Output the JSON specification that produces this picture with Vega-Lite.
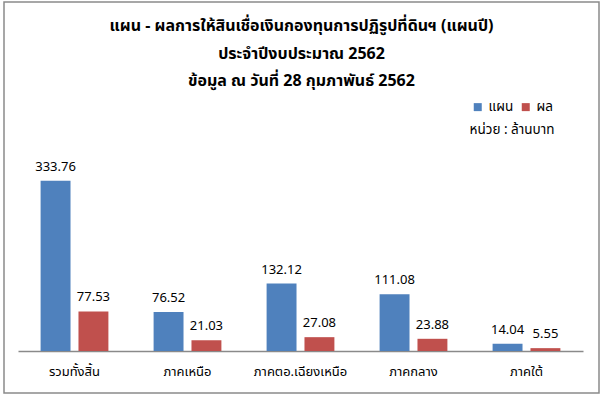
{
  "$schema": "https://vega.github.io/schema/vega-lite/v6.json",
  "width": 602,
  "height": 396,
  "autosize": {"type": "fit", "contains": "padding"},
  "padding": {"left": 4, "top": 2, "right": 3, "bottom": 3},
  "background": "white",
  "config": {
    "view": {"stroke": "#8a8a8a", "strokeWidth": 1.5},
    "font": "Tahoma, 'Noto Sans Thai', 'DejaVu Sans', sans-serif"
  },
  "title": {
    "text": ["แผน - ผลการให้สินเชื่อเงินกองทุนการปฏิรูปที่ดินฯ (แผนปี)", "ประจำปีงบประมาณ 2562", "ข้อมูล ณ วันที่ 28 กุมภาพันธ์ 2562"],
    "anchor": "middle",
    "frame": "group",
    "orient": "top",
    "offset": -87,
    "baseline": "top",
    "fontSize": 16,
    "fontWeight": "bold",
    "lineHeight": 27.5,
    "color": "black"
  },
  "data": {
    "values": [
      {"region": "รวมทั้งสิ้น", "type": "แผน", "value": 333.76},
      {"region": "รวมทั้งสิ้น", "type": "ผล", "value": 77.53},
      {"region": "ภาคเหนือ", "type": "แผน", "value": 76.52},
      {"region": "ภาคเหนือ", "type": "ผล", "value": 21.03},
      {"region": "ภาคตอ.เฉียงเหนือ", "type": "แผน", "value": 132.12},
      {"region": "ภาคตอ.เฉียงเหนือ", "type": "ผล", "value": 27.08},
      {"region": "ภาคกลาง", "type": "แผน", "value": 111.08},
      {"region": "ภาคกลาง", "type": "ผล", "value": 23.88},
      {"region": "ภาคใต้", "type": "แผน", "value": 14.04},
      {"region": "ภาคใต้", "type": "ผล", "value": 5.55}
    ]
  },
  "encoding": {
    "x": {
      "field": "region",
      "type": "nominal",
      "sort": null,
      "scale": {"range": [14, 579], "paddingInner": 0.4, "paddingOuter": 0.2, "align": 0.5},
      "axis": {
        "title": null,
        "domain": true,
        "domainColor": "#8a8a8a",
        "domainWidth": 1.5,
        "ticks": false,
        "tickSize": 0,
        "grid": false,
        "labelAngle": 0,
        "labelPadding": 20,
        "labelBaseline": "middle",
        "labelFontSize": 13,
        "labelColor": "black",
        "offset": -42
      }
    },
    "xOffset": {
      "field": "type",
      "type": "nominal",
      "sort": ["แผน", "ผล"],
      "scale": {"paddingInner": 0.21, "paddingOuter": 0}
    },
    "y": {
      "field": "value",
      "type": "quantitative",
      "scale": {"domain": [-82.4, 684.3], "nice": false, "zero": false},
      "axis": null
    }
  },
  "layer": [
    {
      "mark": {"type": "bar"},
      "encoding": {
        "color": {
          "field": "type",
          "type": "nominal",
          "sort": ["แผน", "ผล"],
          "scale": {"domain": ["แผน", "ผล"], "range": ["#4F81BD", "#C0504D"]},
          "legend": {
            "title": "หน่วย : ล้านบาท",
            "titleOrient": "bottom",
            "titleAnchor": "middle",
            "orient": "none",
            "legendX": 466,
            "legendY": 98,
            "direction": "horizontal",
            "symbolType": "square",
            "symbolSize": 64,
            "symbolStrokeWidth": 0,
            "labelFontSize": 13.5,
            "labelOffset": 4,
            "labelColor": "black",
            "titleFontSize": 13.5,
            "titleFontWeight": "normal",
            "titleColor": "black",
            "titlePadding": 9,
            "columnPadding": 5
          }
        }
      }
    },
    {
      "mark": {"type": "text", "baseline": "bottom", "dy": -7, "fontSize": 13, "color": "black"},
      "encoding": {
        "text": {"field": "value", "type": "quantitative", "format": ".2f"}
      }
    }
  ]
}
